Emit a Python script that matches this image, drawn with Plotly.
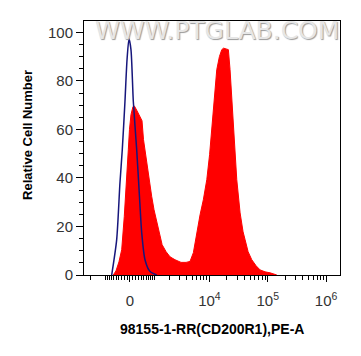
import numpy as np
import plotly.graph_objects as go

# ---- data (fluorescence intensity, relative cell number) ----
control_intensity = [-686, -480, -354, -269, -174, -102, -34, 34, 115, 234, 341, 418, 547, 764, 1100]
control_count = [0, 14.5, 38, 51.6, 71.5, 88.7, 97.4, 92.9, 71.5, 51.6, 31, 17.4, 6.3, 1.4, 0]

sample_intensity = [-616, -507, -392, -290, -198, -115, -58, -18, 34, 103,
                    155, 244, 354, 429, 488, 568, 674, 842, 957, 1101,
                    1233, 1426, 1708, 2027, 2503, 3209, 3936, 4620, 5279, 6042,
                    6898, 7857, 9008, 10063, 10961, 12504, 13368, 14833, 16298, 17510,
                    19332, 21146, 22611, 24172, 25785, 27564, 29474, 33607, 37792, 40967,
                    46085, 53279, 63176, 74033, 90252, 109785, 143052]
sample_count = [0, 1.7, 5.4, 10.4, 24.1, 38, 51.6, 59.9, 66.1, 69.4,
                69.6, 67.7, 65.4, 63.6, 55.8, 49.6, 43.4, 32.4, 26.9, 21.9,
                17.8, 12.5, 9.6, 7.5, 6.3, 5.2, 5.2, 5.6, 9.2, 17.4,
                24.8, 31, 39.3, 49.6, 59.9, 73.5, 84.6, 90, 92.9, 93.5,
                93.1, 92.9, 84.6, 73.5, 59.9, 49.6, 39.3, 25.6, 17.8, 14.5,
                9.6, 6.3, 3.8, 2.1, 1.3, 0.9, 0]

x_major_values = [0, 1e4, 1e5, 1e6]
x_major_labels = ["0", "10<sup>4</sup>", "10<sup>5</sup>", "10<sup>6</sup>"]
y_tick_values = [0, 20, 40, 60, 80, 100]

x_title = "98155-1-RR(CD200R1),PE-A"
y_title = "Relative Cell Number"
watermark = "WWW.PTGLAB.COM"


def biex(v):
    """Logicle-like (arcsinh) display transform."""
    return np.arcsinh(np.asarray(v, dtype=float) / 872.0) / np.log(10)


minor_vals = []
for d in [2, 3, 4, 5]:
    for k in range(1, 10):
        v = k * 10 ** d
        if v not in x_major_values:
            minor_vals.append(v)
for k in range(1, 10):
    minor_vals.append(-k * 100)
minor_vals += [-1000, -2000]

fig = go.Figure()
fig.add_trace(go.Scatter(
    x=biex(sample_intensity), y=sample_count, mode="lines",
    line=dict(color="#ff0000", width=1), fill="tozeroy", fillcolor="#ff0000",
    hoverinfo="skip", showlegend=False))
fig.add_trace(go.Scatter(
    x=biex(control_intensity), y=control_count, mode="lines",
    line=dict(color="#16167c", width=1.5, shape="spline", smoothing=0.7),
    hoverinfo="skip", showlegend=False))

tickfont = dict(family="Liberation Sans, Arial, sans-serif", size=15, color="#333333")

fig.update_layout(
    width=361, height=356,
    margin=dict(l=84, r=21, t=21, b=81),
    paper_bgcolor="white", plot_bgcolor="white",
    xaxis=dict(
        range=[-0.788, 3.599], showgrid=False, zeroline=False,
        showline=True, linecolor="black", linewidth=1, mirror=True,
        tickmode="array", tickvals=biex(x_major_values).tolist(), ticktext=x_major_labels,
        ticks="outside", ticklen=6, tickcolor="black", tickwidth=1,
        ticklabelstandoff=6,
        tickfont=tickfont,
        minor=dict(tickmode="array", tickvals=biex(minor_vals).tolist(),
                   ticks="outside", ticklen=4, tickcolor="black", tickwidth=1),
    ),
    yaxis=dict(
        range=[0, 104.7], showgrid=False, zeroline=False,
        showline=True, linecolor="black", linewidth=1, mirror=True,
        tickmode="array", tickvals=y_tick_values,
        ticks="outside", ticklen=7, tickcolor="black", tickwidth=1,
        tickfont=tickfont,
        minor=dict(dtick=5, tick0=0, ticks="outside", ticklen=4,
                   tickcolor="black", tickwidth=1),
    ),
    annotations=[
        dict(text=watermark, xref="paper", yref="paper", x=0.52, y=0.962,
             xanchor="center", yanchor="middle", showarrow=False,
             font=dict(family="DejaVu Sans", size=25, color="#e6e6e6",
                       shadow="1px 1px 1px #9a9a9a")),
        dict(text="<b>" + y_title + "</b>", xref="paper", yref="paper",
             x=-0.223, y=0.551, xanchor="center", yanchor="middle",
             textangle=-90, showarrow=False,
             font=dict(family="Liberation Sans, Arial, sans-serif", size=13, color="black")),
        dict(text="<b>" + x_title + "</b>", xref="paper", yref="paper",
             x=0.5, y=-0.2126, xanchor="center", yanchor="middle", showarrow=False,
             font=dict(family="Liberation Sans, Arial, sans-serif", size=14, color="black")),
    ],
)

fig.write_html("out.html", config={"displayModeBar": False},
               post_script="document.body.style.margin='0px';")
